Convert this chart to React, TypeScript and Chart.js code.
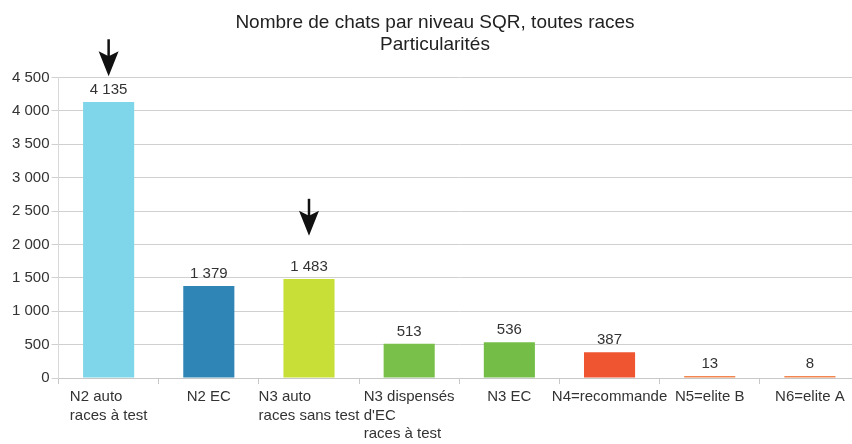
import React, { useEffect, useRef } from "react";
import { Chart, registerables } from "chart.js";

Chart.register(...registerables);

const titleLines = ["Nombre de chats par niveau SQR, toutes races", "Particularités"];
const categories: string[][] = [
  ["N2 auto", "races à test"],
  ["N2 EC"],
  ["N3 auto", "races sans test"],
  ["N3 dispensés", "d'EC", "races à test"],
  ["N3 EC"],
  ["N4=recommande"],
  ["N5=elite B"],
  ["N6=elite A"],
];
const counts = [4135, 1379, 1483, 513, 536, 387, 13, 8];
const barColors = ["#7fd5e9", "#2f85b6", "#c7df36", "#78c04a", "#74be48", "#ef5530", "#f2864e", "#f2864e"];
const yMax = 4500;
const yStep = 500;
const arrowCategoryIndex = [0, 2];
const arrowTipValues = [4520, 2130];

const FONT = "'Liberation Sans', Arial, sans-serif";

const fmt = (v: number) => String(v).replace(/\B(?=(\d{3})+(?!\d))/g, " ");

const valueLabels = {
  id: "valueLabels",
  afterDatasetsDraw(chart: any) {
    const ctx = chart.ctx;
    const meta = chart.getDatasetMeta(0);
    ctx.save();
    ctx.font = `15px ${FONT}`;
    ctx.fillStyle = "#333";
    ctx.textAlign = "center";
    ctx.textBaseline = "middle";
    meta.data.forEach((bar: any, i: number) => {
      ctx.fillText(fmt(counts[i]), bar.x, bar.y - 12);
    });
    ctx.restore();
  },
};

const arrows = {
  id: "arrows",
  afterDatasetsDraw(chart: any) {
    const ctx = chart.ctx;
    const xs = chart.scales.x;
    const ys = chart.scales.y;
    ctx.save();
    ctx.fillStyle = "#111";
    ctx.strokeStyle = "#111";
    arrowCategoryIndex.forEach((idx, k) => {
      const x = xs.getPixelForValue(idx);
      const tip = ys.getPixelForValue(arrowTipValues[k]);
      ctx.lineWidth = 2.5;
      ctx.beginPath();
      ctx.moveTo(x, tip - 37);
      ctx.lineTo(x, tip - 18);
      ctx.stroke();
      ctx.beginPath();
      ctx.moveTo(x, tip);
      ctx.lineTo(x - 10, tip - 25);
      ctx.lineTo(x, tip - 20);
      ctx.lineTo(x + 10, tip - 25);
      ctx.closePath();
      ctx.fill();
    });
    ctx.restore();
  },
};

const categoryLabels = {
  id: "categoryLabels",
  afterDraw(chart: any) {
    const ctx = chart.ctx;
    const xs = chart.scales.x;
    const base = chart.chartArea.bottom;
    ctx.save();
    ctx.font = `15px ${FONT}`;
    ctx.fillStyle = "#333";
    ctx.textAlign = "left";
    ctx.textBaseline = "middle";
    categories.forEach((lines, i) => {
      const cx = xs.getPixelForValue(i);
      const w = Math.max(...lines.map((l) => ctx.measureText(l).width));
      const left = cx - w / 2;
      lines.forEach((l, j) => {
        ctx.fillText(l, left, base + 19 + j * 18.5);
      });
    });
    ctx.restore();
  },
};

export default function App() {
  const ref = useRef<HTMLCanvasElement | null>(null);
  useEffect(() => {
    document.body.style.margin = "0";
    const chart = new Chart(ref.current as HTMLCanvasElement, {
      type: "bar",
      data: {
        labels: categories.map((c) => c.join(" ")),
        datasets: [
          {
            data: counts,
            backgroundColor: barColors,
            borderWidth: 0,
            barPercentage: 0.51,
            categoryPercentage: 1,
            minBarLength: 2,
          },
        ],
      },
      options: {
        responsive: false,
        animation: false,
        layout: { padding: { left: 10, right: 2, top: 0, bottom: 60 } },
        plugins: {
          legend: { display: false },
          tooltip: { enabled: false },
          title: {
            display: true,
            text: titleLines,
            color: "#222",
            font: { family: FONT, size: 19, weight: "normal", lineHeight: 1.2 },
            padding: { top: 11, bottom: 21 },
          },
        },
        scales: {
          x: {
            offset: true,
            ticks: { display: false },
            grid: { drawOnChartArea: false, drawTicks: true, tickLength: 6, color: "#c8c8c8", offset: true },
            border: { display: true, color: "#c8c8c8" },
          },
          y: {
            min: 0,
            max: yMax,
            ticks: {
              stepSize: yStep,
              padding: 2,
              color: "#333",
              font: { family: FONT, size: 15 },
              callback: (v: any) => fmt(Number(v)),
            },
            grid: { color: "#d0d0d0", tickLength: 7 },
            border: { display: true, color: "#d8d8d8" },
          },
        },
      },
      plugins: [valueLabels, arrows, categoryLabels],
    });
    return () => chart.destroy();
  }, []);
  return (
    <div style={{ position: "fixed", left: 0, top: 0, width: 852, height: 444, overflow: "hidden", background: "#fff" }}>
      <canvas ref={ref} width={862} height={444} style={{ display: "block" }} />
    </div>
  );
}
